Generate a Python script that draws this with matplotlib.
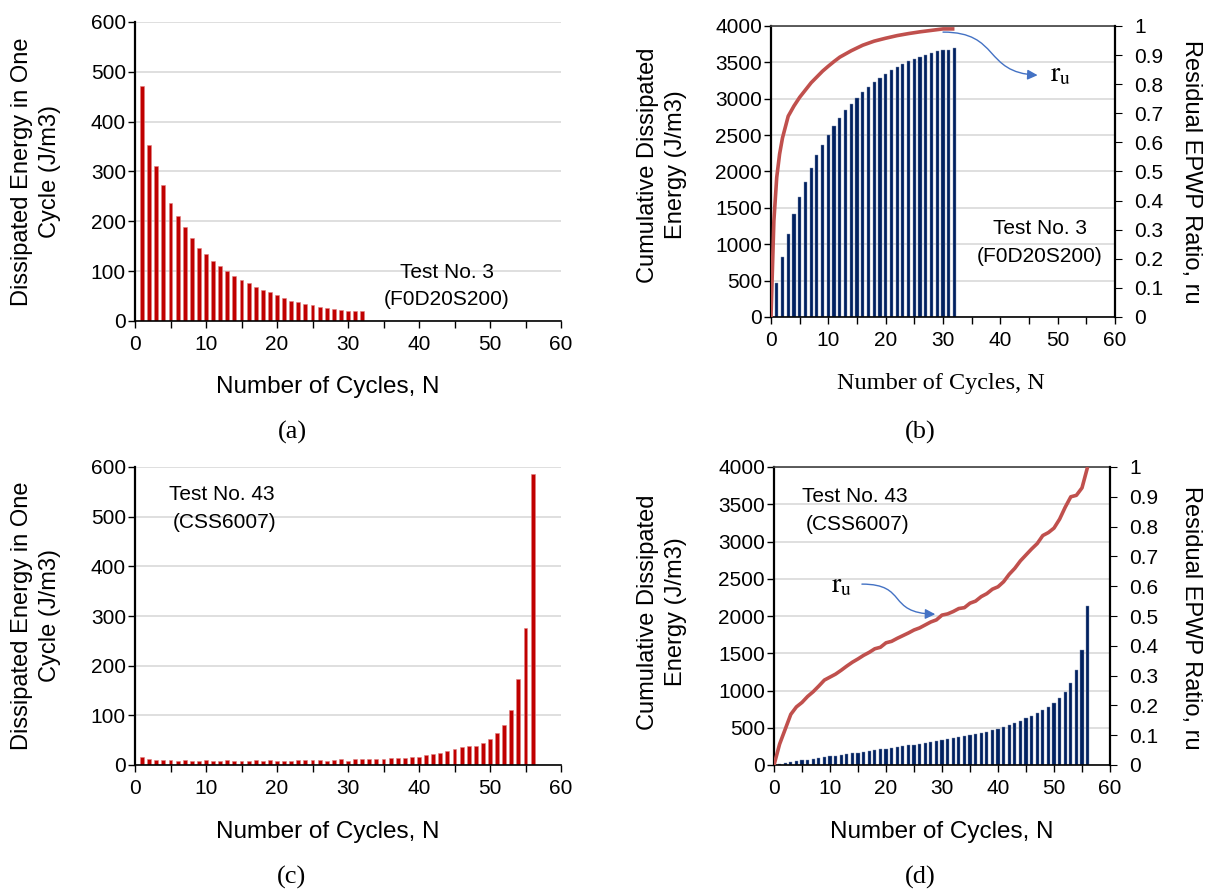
import matplotlib
matplotlib.use('Agg')
import matplotlib.pyplot as plt
from matplotlib.path import Path
from matplotlib.patches import FancyArrowPatch

plt.rcParams['font.family'] = ['Liberation Sans', 'DejaVu Sans']

# ---------------- data ----------------
cycles_a = list(range(1, 33))
energy_a = [471, 354, 311, 272, 236, 211, 188, 167, 147, 134, 120, 110, 100, 90, 82, 76,
            68, 62, 58, 52, 46, 41, 39, 35, 32, 29, 26, 24, 22, 21, 21, 21]

cycles_b = list(range(1, 33))
cum_b = [470, 827, 1138, 1412, 1650, 1860, 2052, 2221, 2367, 2504, 2628, 2737, 2843, 2934,
         3016, 3094, 3162, 3231, 3286, 3341, 3391, 3437, 3478, 3514, 3551, 3578, 3606, 3629,
         3651, 3674, 3674, 3693]
ru_b_N = [0, 0.5, 1, 1.5, 2, 3, 4, 5, 6, 7, 8, 9, 10, 11, 12, 14, 16, 18, 20, 22, 24, 26, 28, 30, 32]
ru_b = [0, 0.33, 0.48, 0.56, 0.615, 0.69, 0.725, 0.755, 0.78, 0.805, 0.825, 0.845, 0.862,
        0.878, 0.893, 0.915, 0.934, 0.948, 0.958, 0.967, 0.974, 0.98, 0.985, 0.99, 0.99]

cycles_c = list(range(1, 57))
energy_c = [17, 12, 10, 10, 10, 8, 10, 9, 9, 10, 9, 9, 11, 9, 9, 9, 10, 9, 10, 9, 9, 9, 10,
            11, 11, 10, 9, 11, 12, 9, 13, 12, 12, 12, 13, 15, 14, 14, 16, 16, 21, 23, 25, 28,
            32, 36, 38, 38, 44, 53, 64, 80, 111, 174, 275, 586]

cycles_d = list(range(1, 57))
cum_d = [17, 30, 42, 53, 64, 73, 84, 94, 104, 115, 125, 135, 147, 157, 167, 177, 188, 198,
         209, 219, 229, 239, 250, 262, 274, 285, 295, 308, 322, 335, 349, 366, 375, 384, 402,
         415, 433, 447, 465, 487, 509, 532, 563, 590, 625, 657, 693, 733, 773, 835, 903, 974,
         1100, 1270, 1550, 2130]
ru_d_N = list(range(0, 57))
ru_d = [0, 0.07, 0.12, 0.17, 0.195, 0.21, 0.23, 0.246, 0.265, 0.285, 0.295, 0.305, 0.318,
        0.332, 0.345, 0.356, 0.368, 0.378, 0.39, 0.395, 0.41, 0.415, 0.425, 0.434, 0.443,
        0.453, 0.46, 0.47, 0.48, 0.487, 0.503, 0.507, 0.515, 0.525, 0.528, 0.543, 0.55,
        0.565, 0.575, 0.59, 0.598, 0.615, 0.64, 0.66, 0.685, 0.705, 0.725, 0.743, 0.77,
        0.78, 0.795, 0.825, 0.865, 0.9, 0.905, 0.93, 1.0]

x_ticks = list(range(0, 61, 5))
x_labels = [str(t) if t % 10 == 0 else '' for t in x_ticks]
ru_ticks = [i / 10 for i in range(11)]
ru_labels = ['0'] + ['0.%d' % i for i in range(1, 10)] + ['1']

RED = '#C00000'
NAVY = '#002060'
LINE = '#C0504D'
ARROW = '#4472C4'
GRID = '#D9D9D9'
SERIF = ['Liberation Serif', 'DejaVu Serif']

TICK_FS = 15
TEXT_FS = 15
YLAB_FS = 17
XLAB_FS = 17.5
CAP_FS = 19

W, H = 1217, 890
fig = plt.figure(figsize=(W / 100, H / 100), dpi=100)


def rect(left, right, top, bottom):
    return [left / W, 1 - bottom / H, (right - left) / W, (bottom - top) / H]


def ftext(x, y, s, **kw):
    fig.text(x / W, 1 - y / H, s, ha='center', va='center', **kw)


def base(ax, ymax, ystep, top_spine):
    ax.set_xlim(0, 60)
    ax.set_ylim(0, ymax)
    ax.set_yticks(range(0, ymax + 1, ystep))
    ax.set_xticks(x_ticks)
    ax.set_xticklabels(x_labels)
    ax.grid(axis='y', color=GRID, lw=1.2)
    ax.set_axisbelow(True)
    ax.spines['left'].set_linewidth(1.6)
    ax.spines['bottom'].set_linewidth(1.2)
    ax.spines['right'].set_visible(False)
    if top_spine:
        ax.spines['top'].set_color('#404040')
        ax.spines['top'].set_linewidth(1.2)
    else:
        ax.spines['top'].set_visible(False)
    ax.tick_params(direction='out', length=5, width=1, labelsize=TICK_FS, colors='#000000')
    ax.tick_params(axis='x', pad=5)
    ax.tick_params(axis='y', pad=1.5)


def right_axis(ax):
    ax2 = ax.twinx()
    ax2.set_ylim(0, 1)
    ax2.set_yticks(ru_ticks)
    ax2.set_yticklabels(ru_labels)
    ax2.spines['right'].set_linewidth(1.6)
    for s in ['left', 'top', 'bottom']:
        ax2.spines[s].set_visible(False)
    ax2.tick_params(direction='out', length=5, labelsize=TICK_FS, pad=9)
    return ax2


def curvy_arrow(ax, p0, p1, p2, p3):
    path = Path([p0, p1, p2, p3], [Path.MOVETO, Path.CURVE4, Path.CURVE4, Path.CURVE4])
    arr = FancyArrowPatch(path=path, arrowstyle='-|>', mutation_scale=15, color=ARROW,
                          lw=1.0, transform=ax.transData)
    ax.add_patch(arr)


# ---------------- (a) ----------------
ax_a = fig.add_axes(rect(135, 561, 22, 321))
base(ax_a, 600, 100, False)
ax_a.bar(cycles_a, energy_a, width=0.56, color=RED, edgecolor='#E08080', linewidth=0.4)
ftext(447, 273, 'Test No. 3', fontsize=TEXT_FS)
ftext(447, 300, '(F0D20S200)', fontsize=TEXT_FS)
ftext(22, 172, 'Dissipated Energy in One', fontsize=YLAB_FS, rotation=90)
ftext(50, 172, 'Cycle (J/m3)', fontsize=YLAB_FS, rotation=90)
ftext(328, 387, 'Number of Cycles, N', fontsize=XLAB_FS)
ftext(292, 432, '(a)', fontsize=CAP_FS, family=SERIF)

# ---------------- (b) ----------------
ax_b = fig.add_axes(rect(771, 1115, 26, 317))
base(ax_b, 4000, 500, True)
ax_b.bar(cycles_b, cum_b, width=0.56, color=NAVY, edgecolor='#8090B0', linewidth=0.3)
ax_b2 = right_axis(ax_b)
ax_b2.plot(ru_b_N, ru_b, color=LINE, lw=2.6, solid_capstyle='butt')
curvy_arrow(ax_b2, (30, 0.979), (40, 0.979), (37, 0.84), (46.5, 0.831))
ax_b2.text(50.5, 0.835, r'$\mathrm{r_u}$', fontsize=20, ha='center', va='center',
           math_fontfamily='stix')
ftext(1040, 229, 'Test No. 3', fontsize=TEXT_FS)
ftext(1040, 256, '(F0D20S200)', fontsize=TEXT_FS)
ftext(648, 165, 'Cumulative Dissipated', fontsize=YLAB_FS, rotation=90)
ftext(676, 165, 'Energy (J/m3)', fontsize=YLAB_FS, rotation=90)
ftext(1191, 172, 'Residual EPWP Ratio, ru', fontsize=YLAB_FS, rotation=-90)
ftext(941, 384, 'Number of Cycles, N', fontsize=17.5, family=SERIF)
ftext(920, 432, '(b)', fontsize=CAP_FS, family=SERIF)

# ---------------- (c) ----------------
ax_c = fig.add_axes(rect(135, 561, 467, 765))
base(ax_c, 600, 100, False)
ax_c.bar(cycles_c, energy_c, width=0.56, color=RED, edgecolor='#E08080', linewidth=0.4)
ftext(222, 495, 'Test No. 43', fontsize=TEXT_FS)
ftext(225, 522, '(CSS6007)', fontsize=TEXT_FS)
ftext(22, 616, 'Dissipated Energy in One', fontsize=YLAB_FS, rotation=90)
ftext(50, 616, 'Cycle (J/m3)', fontsize=YLAB_FS, rotation=90)
ftext(328, 832, 'Number of Cycles, N', fontsize=XLAB_FS)
ftext(292, 877, '(c)', fontsize=CAP_FS, family=SERIF)

# ---------------- (d) ----------------
ax_d = fig.add_axes(rect(774, 1110, 467, 765))
base(ax_d, 4000, 500, True)
ax_d.bar(cycles_d, cum_d, width=0.56, color=NAVY, edgecolor='#8090B0', linewidth=0.3)
ax_d2 = right_axis(ax_d)
ax_d2.plot(ru_d_N, ru_d, color=LINE, lw=2.6, solid_capstyle='butt')
curvy_arrow(ax_d2, (15.7, 0.607), (24, 0.607), (20, 0.51), (28.8, 0.506))
ax_d2.text(12.1, 0.605, r'$\mathrm{r_u}$', fontsize=20, ha='center', va='center',
           math_fontfamily='stix')
ftext(855, 497, 'Test No. 43', fontsize=TEXT_FS)
ftext(858, 524, '(CSS6007)', fontsize=TEXT_FS)
ftext(648, 612, 'Cumulative Dissipated', fontsize=YLAB_FS, rotation=90)
ftext(676, 612, 'Energy (J/m3)', fontsize=YLAB_FS, rotation=90)
ftext(1191, 618, 'Residual EPWP Ratio, ru', fontsize=YLAB_FS, rotation=-90)
ftext(942, 832, 'Number of Cycles, N', fontsize=XLAB_FS)
ftext(920, 877, '(d)', fontsize=CAP_FS, family=SERIF)

fig.savefig('out.png', dpi=100, facecolor='white')
